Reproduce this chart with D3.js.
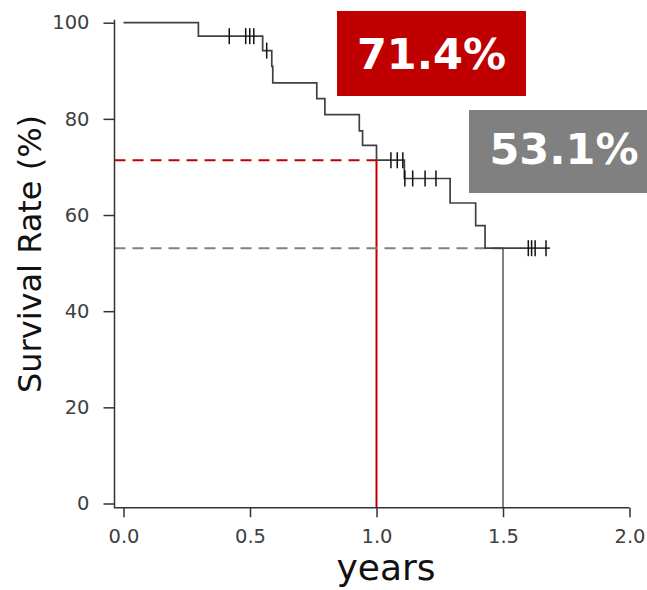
<!DOCTYPE html>
<html>
<head>
<meta charset="utf-8">
<script src="https://cdn.jsdelivr.net/npm/d3@7/dist/d3.min.js"></script>
<style>
  html, body { margin: 0; padding: 0; background: #fff; }
  svg { display: block; }
  text { font-family: "DejaVu Sans", Verdana, sans-serif; }
</style>
</head>
<body>
<svg id="chart" width="647" height="590"></svg>
<script>
// Kaplan–Meier survival estimate: event times (years) and the survival (%) after each event
const eventTimes = [0.296, 0.550, 0.586, 0.590, 0.764, 0.796, 0.932, 0.945, 1.000, 1.110, 1.291, 1.392, 1.429];
const survivalAfter = [97.2, 94.2, 90.9, 87.5, 84.2, 80.9, 77.5, 74.5, 71.4, 67.6, 62.5, 57.8, 53.1];
const followUpEnd = 1.686;

// censored observations (years)
const censorTimes = [0.418, 0.483, 0.499, 0.515, 0.566, 1.057, 1.082, 1.104, 1.112, 1.143, 1.192, 1.235, 1.600, 1.613, 1.627, 1.670];

// landmark survival rates
const landmarkYears = [1.0, 1.5];
const landmarkRates = [71.4, 53.1];
const landmarkLabels = ["71.4%", "53.1%"];
const landmarkColors = ["#c00000", "#808080"];

const xTicks = [0, 0.5, 1.0, 1.5, 2.0];
const yTicks = [0, 20, 40, 60, 80, 100];

const svg = d3.select("#chart");
const axisColor = "#333";

const x = d3.scaleLinear().domain([0, 2]).range([123.5, 629.5]);
const y = d3.scaleLinear().domain([0, 100]).range([503.5, 22.7]);
const axisLeftX = 114.5, axisBottomY = 507.7;

// step function of the survival curve
function survivalAt(t) {
  let s = 100;
  for (let i = 0; i < eventTimes.length; i++) if (eventTimes[i] <= t) s = survivalAfter[i];
  return s;
}

// landmark guide lines (dashed horizontal + solid vertical)
landmarkYears.forEach((yr, i) => {
  svg.append("line")
    .attr("x1", axisLeftX).attr("x2", x(yr))
    .attr("y1", y(landmarkRates[i])).attr("y2", y(landmarkRates[i]))
    .attr("stroke", landmarkColors[i]).attr("stroke-width", 2)
    .attr("stroke-dasharray", "11,7");
  svg.append("line")
    .attr("x1", x(yr)).attr("x2", x(yr))
    .attr("y1", y(landmarkRates[i])).attr("y2", axisBottomY)
    .attr("stroke", landmarkColors[i]).attr("stroke-width", 2);
});

// survival curve as a step-after line
const pts = [[0, 100]];
eventTimes.forEach((t, i) => pts.push([t, survivalAfter[i]]));
pts.push([followUpEnd, survivalAfter[survivalAfter.length - 1]]);
svg.append("path")
  .attr("d", d3.line().x(d => x(d[0])).y(d => y(d[1])).curve(d3.curveStepAfter)(pts))
  .attr("fill", "none").attr("stroke", "#404040").attr("stroke-width", 1.7);

// censor ticks
svg.append("g").selectAll("line").data(censorTimes).join("line")
  .attr("x1", d => x(d)).attr("x2", d => x(d))
  .attr("y1", d => y(survivalAt(d)) - 8).attr("y2", d => y(survivalAt(d)) + 8)
  .attr("stroke", "#111").attr("stroke-width", 1.5);

// axes
const yAxis = svg.append("g").attr("transform", `translate(${axisLeftX},0)`)
  .call(d3.axisLeft(y).tickValues(yTicks).tickSize(11).tickPadding(14).tickSizeOuter(0));
const xAxis = svg.append("g").attr("transform", `translate(0,${axisBottomY})`)
  .call(d3.axisBottom(x).tickValues(xTicks).tickFormat(d3.format(".1f")).tickSize(9.5).tickPadding(12).tickSizeOuter(0));
[yAxis, xAxis].forEach(g => {
  g.select(".domain").remove();
  g.selectAll(".tick line").attr("stroke", axisColor).attr("stroke-width", 1.5);
  g.selectAll(".tick text").attr("fill", "#404040").style("font-size", "19.5px")
    .style("font-family", '"DejaVu Sans", Verdana, sans-serif');
});
svg.append("path")
  .attr("d", `M${axisLeftX},${y(100) - 3}V${axisBottomY}H${x(2)}`)
  .attr("fill", "none").attr("stroke", axisColor).attr("stroke-width", 1.5);

// axis titles
svg.append("text").attr("x", 386).attr("y", 580).attr("text-anchor", "middle")
  .style("font-size", "36px").attr("fill", "#111").text("years");
svg.append("text").attr("transform", "translate(41,254) rotate(-90)").attr("text-anchor", "middle")
  .style("font-size", "32px").attr("fill", "#111").text("Survival Rate (%)");

// landmark value boxes
const boxes = [
  { x0: 337, x1: 526, y0: 11, y1: 96, tx: 431.5, ty: 69 },
  { x0: 469, x1: 647, y0: 110, y1: 193, tx: 564, ty: 164 }
];
boxes.forEach((b, i) => {
  svg.append("rect").attr("x", b.x0).attr("y", b.y0)
    .attr("width", b.x1 - b.x0).attr("height", b.y1 - b.y0)
    .attr("fill", landmarkColors[i]);
  svg.append("text").attr("x", b.tx).attr("y", b.ty).attr("text-anchor", "middle")
    .style("font-size", "43px").style("font-weight", "bold").attr("fill", "#fff")
    .text(landmarkLabels[i]);
});
</script>
</body>
</html>
